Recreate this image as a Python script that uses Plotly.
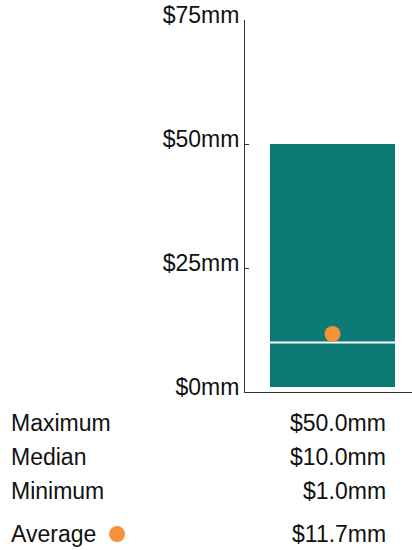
import plotly.graph_objects as go

# Summary statistics of the distribution ($mm)
stat_labels = ["Maximum", "Median", "Minimum", "Average"]
stat_values = [50.0, 10.0, 1.0, 11.7]

# Y axis ticks
tick_values = [0, 25, 50, 75]
tick_labels = ["$0mm", "$25mm", "$50mm", "$75mm"]

v_max, v_median, v_min, v_avg = stat_values

TEAL = "#0b7a75"
ORANGE = "#f39237"
FONT = "Liberation Sans, Arial, sans-serif"
AXIS = "#333333"
TEXT = "#111111"
FS = 23

BAR_HALF = 0.375

fig = go.Figure()

# Min-to-max range bar
fig.add_trace(go.Bar(
    x=[0], y=[v_max - v_min], base=[v_min], width=[2 * BAR_HALF],
    marker=dict(color=TEAL, line=dict(width=0)),
    hoverinfo="skip", showlegend=False,
))

# Median line across the bar
fig.add_trace(go.Scatter(
    x=[-BAR_HALF, BAR_HALF], y=[v_median, v_median], mode="lines",
    line=dict(color="white", width=2), hoverinfo="skip", showlegend=False,
))

# Average marker
fig.add_trace(go.Scatter(
    x=[0], y=[v_avg], mode="markers",
    marker=dict(color=ORANGE, size=16, line=dict(width=0)),
    hoverinfo="skip", showlegend=False,
))

# Summary table below the chart
row_y = [-0.0833, -0.1747, -0.266, -0.382]
annotations = []
for label, value, y in zip(stat_labels, stat_values, row_y):
    annotations.append(dict(
        text=label, x=-1.413, y=y, xref="paper", yref="paper",
        xanchor="left", yanchor="middle", showarrow=False,
        font=dict(family=FONT, size=FS, color=TEXT),
    ))
    annotations.append(dict(
        text=f"${value:.1f}mm", x=0.856, y=y, xref="paper", yref="paper",
        xanchor="right", yanchor="middle", showarrow=False,
        font=dict(family=FONT, size=FS, color=TEXT),
    ))

shapes = [dict(
    type="circle", xref="paper", yref="paper",
    xsizemode="pixel", ysizemode="pixel",
    xanchor=-0.766, yanchor=row_y[3],
    x0=-8, x1=8, y0=-8, y1=8,
    fillcolor=ORANGE, line=dict(width=0),
)]

fig.update_layout(
    width=412, height=550,
    margin=dict(l=245, r=0, t=20, b=158),
    paper_bgcolor="white", plot_bgcolor="white",
    font=dict(family=FONT, size=FS, color=TEXT),
    annotations=annotations, shapes=shapes,
    bargap=0,
)
fig.update_xaxes(
    range=[-0.524, 0.476], showgrid=False, zeroline=False,
    showticklabels=False, ticks="",
    showline=True, linecolor=AXIS, linewidth=1,
)
fig.update_yaxes(
    range=[0, 75], tickvals=tick_values, ticktext=tick_labels,
    showgrid=False, zeroline=False,
    showline=True, linecolor=AXIS, linewidth=1,
    ticks="inside", ticklen=4, tickcolor=AXIS,
    ticklabelshift=-5, ticklabelstandoff=0,
    tickfont=dict(family=FONT, size=FS, color=TEXT),
)

fig.write_html("out.html")
